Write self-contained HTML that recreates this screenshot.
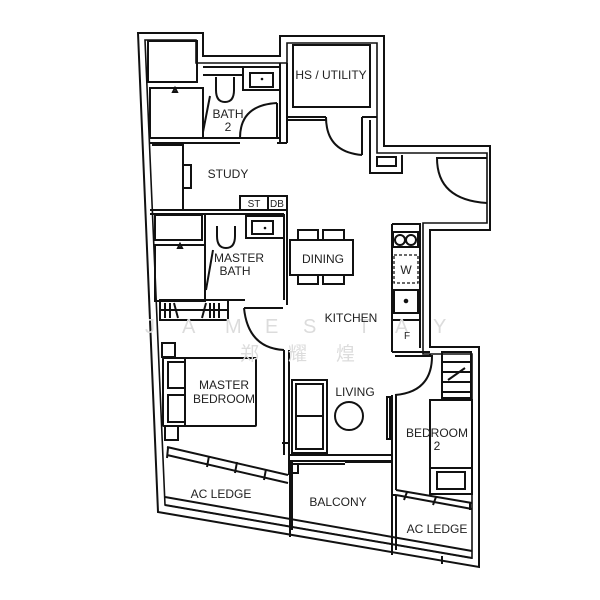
<!DOCTYPE html>
<html><head><meta charset="utf-8"><style>
html,body{margin:0;padding:0;background:#fff;}
svg{display:block}
text{font-family:"Liberation Sans","Noto Sans CJK SC",sans-serif;fill:#222;}
.l{font-size:12px;text-anchor:middle}
</style></head><body>
<svg width="600" height="600" viewBox="0 0 600 600" xmlns="http://www.w3.org/2000/svg">
<g fill="none" stroke="#111" stroke-width="2" stroke-linejoin="miter">
<path d="M138,33 L203,33 L203,56 L280,56 L280,36 L384,36 L384,146 L490,146 L490,230 L430,230 L430,347 L479,347 L479,567 L158,512 Z"/>
<path d="M145,40 L196,40 L196,63 L287,63 L287,43 L377,43 L377,153 L487,153 L487,223 L423,223 L423,354 L472,354 L472,558 L165,505 Z" stroke-width="1.6"/>
<rect x="148" y="41" width="49" height="41"/>
<rect x="150" y="88" width="53" height="50"/>
<path d="M203,67 L280,67 M203,75 L243,75"/>
<rect x="243" y="67" width="37" height="23"/>
<rect x="250" y="73" width="23" height="14"/>
<path d="M216,77 L216,90 Q216,102 225,102 Q234,102 234,90 L234,77" />
<path d="M150,138 L280,138 M150,143 L240,143 M277,143 L287,143"/>
<path d="M280,63 L280,143 M287,63 L287,143"/>
<path d="M277,103 L277,138 M240,138 Q240,105 277,103"/>
<path d="M210,96 L203,132"/>
<path d="M173,92 L175,88 L177,92 Z"/>
<rect x="293" y="45" width="77" height="62"/>
<path d="M287,117 L326,117 M362,117 L377,117 M287,120 L326,120"/>
<path d="M362,117 L362,155 M326,117 Q326,152 362,155"/>
<path d="M370,120 L370,173 L402,173 L402,155"/>
<rect x="377" y="157" width="19" height="9"/>
<path d="M487,158 L437,158 Q437,200 487,203"/>
<path d="M152,145 L183,145 L183,210 L152,210"/>
<rect x="183" y="165" width="8" height="23"/>
<rect x="240" y="196" width="47" height="14"/>
<path d="M268,196 L268,210 M287,196 L287,305"/>
<path d="M150,210 L287,210 M150,214 L284,214"/>
<rect x="155" y="215" width="47" height="25"/>
<rect x="155" y="245" width="50" height="56"/>
<path d="M205,215 L205,300 M205,300 L245,300"/>
<rect x="246" y="216" width="38" height="22"/>
<rect x="252" y="221" width="21" height="13"/>
<path d="M217,226 L217,236 Q217,248 226,248 Q235,248 235,236 L235,226"/>
<path d="M213,250 L206,290"/>
<path d="M178,248 L180,244 L182,248 Z"/>
<path d="M284,214 L284,300"/>
<path d="M244,308 L283,308 M244,308 Q248,348 284,350"/>
<path d="M284,350 L284,455 M289,350 L289,455"/>
<rect x="160" y="300" width="68" height="20"/>
<path d="M160,310 L228,310 M165,303 L165,318 M170,303 L170,318 M174,303 L178,318 M206,303 L202,318 M210,303 L210,318 M214,303 L214,318 M219,303 L219,318"/>
<rect x="290" y="240" width="63" height="35"/>
<rect x="298" y="230" width="20" height="10"/>
<rect x="323" y="230" width="21" height="10"/>
<rect x="298" y="275" width="20" height="9"/>
<rect x="323" y="275" width="21" height="9"/>
<path d="M392,224 L420,224 L420,348 M392,224 L392,352"/>
<rect x="393" y="232" width="25" height="15"/>
<circle cx="400" cy="240" r="5"/><circle cx="411" cy="240" r="5"/>
<rect x="394" y="255" width="24" height="28" stroke-dasharray="3,2" stroke-width="1.3"/>
<rect x="394" y="290" width="24" height="23"/>
<circle cx="406" cy="301" r="1.3" fill="#111"/>
<path d="M392,320 L420,320"/>
<path d="M392,352 L430,352 M396,356 L430,356 L430,354"/>
<path d="M395,356 L432,356 Q432,392 395,395"/>
<path d="M392,395 L392,495 M396,395 L396,490"/>
<rect x="387" y="397" width="3" height="42"/>
<rect x="442" y="352" width="29" height="46"/>
<path d="M442,362 L471,362 M442,372 L471,372 M442,382 L471,382 M442,392 L471,392 M448,380 L465,368"/>
<rect x="430" y="400" width="42" height="68"/>
<rect x="430" y="468" width="42" height="26"/>
<rect x="437" y="472" width="28" height="17"/>
<path d="M396,490 L472,503 M407,492 L404,500 M436,497 L433,505 M470,503 L470,510"/>
<path d="M396,495 L472,509 M392,495 L396,495"/>
<rect x="162" y="343" width="13" height="14"/>
<rect x="163" y="358" width="93" height="68" rx="1"/>
<rect x="168" y="362" width="17" height="26"/>
<rect x="168" y="395" width="17" height="27"/>
<path d="M185,358 L185,426"/>
<rect x="165" y="426" width="13" height="14"/>
<path d="M167,447 L288,475 M167,455 L288,483 M168,448 L167,458 M209,456 L207,467 M237,462 L235,473 M266,469 L264,480"/>
<path d="M282,443 L289,443 L289,475"/>
<rect x="289" y="464" width="9" height="9"/>
<rect x="292" y="380" width="35" height="73"/>
<rect x="296" y="384" width="27" height="65"/>
<path d="M296,416 L323,416"/>
<circle cx="349" cy="416" r="14"/>
<path d="M289,455 L392,455"/>
<path d="M298,461 L392,461 M298,464 L345,464 M345,462 L392,462"/>
<path d="M289,461 L298,461 M290,461 L290,530 M292,462 L292,530"/>
<path d="M392,462 L392,548 M396,495 L396,550"/>
<path d="M165,505 L472,558 M165,497 L472,551"/>
<path d="M290,528 L290,537 M392,548 L392,555 M442,556 L442,564"/>
</g>
<g font-size="20">
<text x="145" y="333" style="fill:#dcdcdc">J</text>
<text x="182" y="333" style="fill:#dcdcdc">A</text>
<text x="225" y="333" style="fill:#dcdcdc">M</text>
<text x="265" y="333" style="fill:#dcdcdc">E</text>
<text x="303" y="333" style="fill:#dcdcdc">S</text>
<text x="358" y="333" style="fill:#dcdcdc">T</text>
<text x="395" y="333" style="fill:#dcdcdc">A</text>
<text x="433" y="333" style="fill:#dcdcdc">Y</text>
<text x="240" y="360" style="fill:#dcdcdc;font-size:19px">郑</text>
<text x="288" y="360" style="fill:#dcdcdc;font-size:19px">耀</text>
<text x="336" y="360" style="fill:#dcdcdc;font-size:19px">煌</text>
</g>
<circle cx="262" cy="79" r="1.3" fill="#111"/>
<circle cx="265" cy="228" r="1.3" fill="#111"/>
<text class="l" x="331" y="79">HS / UTILITY</text>
<text class="l" x="228" y="118">BATH</text>
<text class="l" x="228" y="131">2</text>
<text class="l" x="228" y="178">STUDY</text>
<text class="l" x="254" y="207" style="font-size:10px">ST</text>
<text class="l" x="277" y="207" style="font-size:10px">DB</text>
<text class="l" x="239" y="262">MASTER</text>
<text class="l" x="235" y="275">BATH</text>
<text class="l" x="323" y="263">DINING</text>
<text class="l" x="406" y="274">W</text>
<text class="l" x="407" y="339" style="font-size:10px">F</text>
<text class="l" x="351" y="322">KITCHEN</text>
<text class="l" x="224" y="389">MASTER</text>
<text class="l" x="224" y="403">BEDROOM</text>
<text class="l" x="355" y="396">LIVING</text>
<text class="l" x="437" y="437">BEDROOM</text>
<text class="l" x="437" y="450">2</text>
<text class="l" x="221" y="498">AC LEDGE</text>
<text class="l" x="338" y="506">BALCONY</text>
<text class="l" x="437" y="533">AC LEDGE</text>
</svg>
</body></html>
